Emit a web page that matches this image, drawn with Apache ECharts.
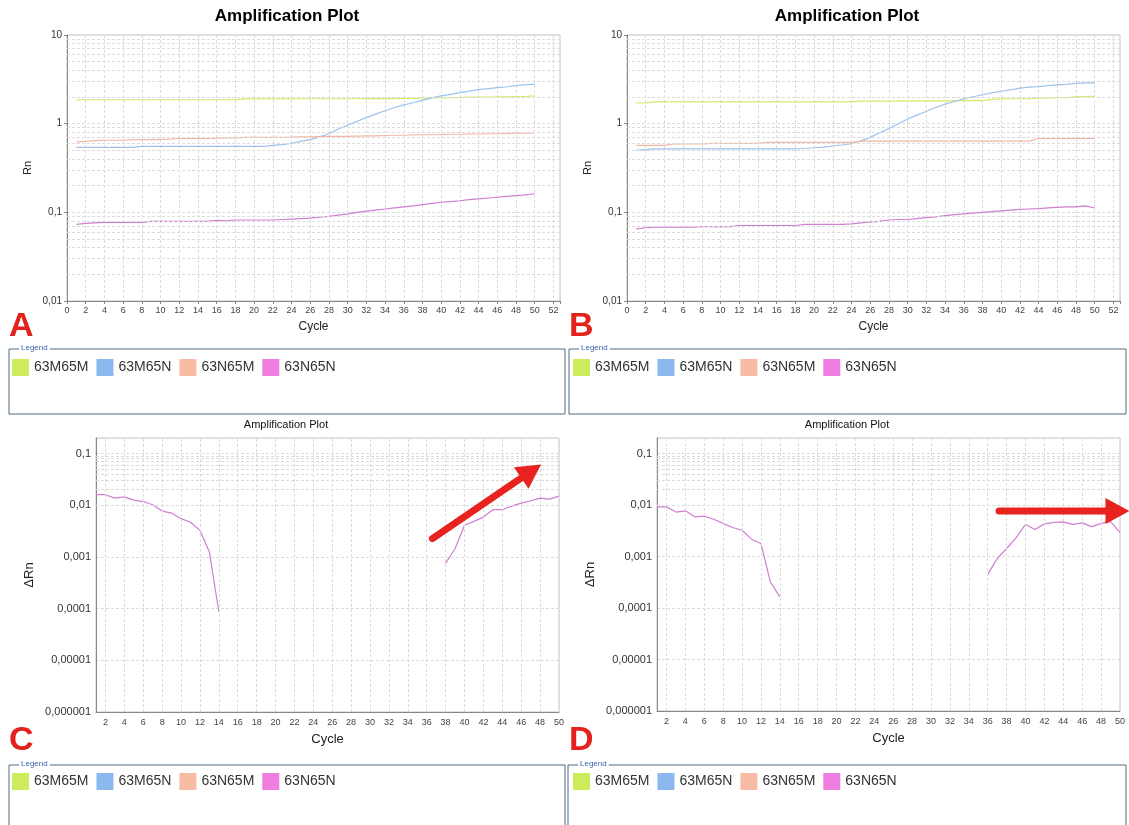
<!DOCTYPE html>
<html>
<head>
<meta charset="utf-8">
<script src="https://cdn.jsdelivr.net/npm/echarts@6/dist/echarts.min.js"></script>
<style>
html, body { margin: 0; padding: 0; background: #fff; }
#main { width: 1129px; height: 825px; }
</style>
</head>
<body>
<div id="main"></div>
<script>
// series names and colours
var names = ['63M65M', '63M65N', '63N65M', '63N65N'];
var legendColors = ['#cdec5c', '#8cb8f0', '#f8bca4', '#f07ee0'];
var lineColors = ['#d4ea6c', '#9ec2ea', '#f2b6a4', '#d07ed2'];

var cycles = [1, 2, 3, 4, 5, 6, 7, 8, 9, 10, 11, 12, 13, 14, 15, 16, 17, 18, 19, 20,
  21, 22, 23, 24, 25, 26, 27, 28, 29, 30, 31, 32, 33, 34, 35, 36, 37, 38, 39, 40,
  41, 42, 43, 44, 45, 46, 47, 48, 49, 50];

// panel A (Rn)
var rnA_M65M = [1.86, 1.86, 1.86, 1.86, 1.86, 1.86, 1.86, 1.86, 1.86, 1.86,
  1.86, 1.86, 1.86, 1.86, 1.86, 1.86, 1.86, 1.87, 1.90, 1.90,
  1.90, 1.90, 1.90, 1.90, 1.91, 1.91, 1.91, 1.91, 1.91, 1.91,
  1.91, 1.92, 1.92, 1.92, 1.92, 1.93, 1.93, 1.94, 1.95, 1.96,
  1.96, 1.97, 1.99, 2.00, 2.00, 2.01, 2.01, 2.02, 2.03, 2.05];
var rnA_M65N = [0.54, 0.54, 0.54, 0.54, 0.54, 0.54, 0.54, 0.555, 0.555, 0.555,
  0.555, 0.555, 0.555, 0.555, 0.555, 0.555, 0.555, 0.555, 0.555, 0.555,
  0.555, 0.57, 0.58, 0.60, 0.63, 0.66, 0.71, 0.77, 0.87, 0.96,
  1.06, 1.17, 1.28, 1.40, 1.52, 1.63, 1.72, 1.83, 1.95, 2.06,
  2.14, 2.24, 2.33, 2.42, 2.48, 2.55, 2.61, 2.68, 2.76, 2.78];
var rnA_N65M = [0.62, 0.63, 0.645, 0.65, 0.65, 0.65, 0.655, 0.66, 0.66, 0.665,
  0.67, 0.68, 0.68, 0.68, 0.68, 0.685, 0.69, 0.69, 0.70, 0.70,
  0.70, 0.70, 0.70, 0.705, 0.71, 0.71, 0.715, 0.72, 0.72, 0.72,
  0.725, 0.73, 0.73, 0.735, 0.74, 0.74, 0.745, 0.75, 0.75, 0.755,
  0.76, 0.76, 0.765, 0.765, 0.77, 0.77, 0.775, 0.78, 0.78, 0.785];
var rnA_N65N = [0.073, 0.075, 0.076, 0.077, 0.077, 0.077, 0.077, 0.077, 0.079, 0.079,
  0.079, 0.079, 0.079, 0.079, 0.079, 0.081, 0.080, 0.082, 0.082, 0.082,
  0.082, 0.082, 0.083, 0.084, 0.085, 0.086, 0.088, 0.090, 0.093, 0.096,
  0.100, 0.103, 0.106, 0.109, 0.112, 0.115, 0.118, 0.122, 0.126, 0.130,
  0.132, 0.135, 0.139, 0.142, 0.145, 0.148, 0.151, 0.154, 0.157, 0.162];

// panel B (Rn)
var rnB_M65M = [1.71, 1.72, 1.76, 1.76, 1.76, 1.76, 1.76, 1.76, 1.76, 1.76,
  1.76, 1.76, 1.76, 1.76, 1.76, 1.76, 1.76, 1.76, 1.76, 1.76,
  1.76, 1.76, 1.76, 1.76, 1.80, 1.80, 1.80, 1.80, 1.80, 1.81,
  1.81, 1.81, 1.81, 1.81, 1.82, 1.82, 1.82, 1.82, 1.88, 1.90,
  1.91, 1.91, 1.92, 1.94, 1.95, 1.96, 1.97, 2.01, 2.02, 2.03];
var rnB_M65N = [0.50, 0.51, 0.52, 0.52, 0.52, 0.52, 0.52, 0.52, 0.52, 0.52,
  0.52, 0.52, 0.52, 0.52, 0.52, 0.52, 0.52, 0.52, 0.525, 0.535,
  0.545, 0.56, 0.575, 0.595, 0.64, 0.70, 0.79, 0.88, 1.00, 1.13,
  1.25, 1.38, 1.52, 1.66, 1.78, 1.90, 2.01, 2.12, 2.22, 2.32,
  2.40, 2.52, 2.58, 2.62, 2.68, 2.74, 2.78, 2.85, 2.88, 2.88];
var rnB_N65M = [0.57, 0.57, 0.57, 0.57, 0.59, 0.59, 0.59, 0.59, 0.60, 0.60,
  0.60, 0.60, 0.60, 0.60, 0.615, 0.615, 0.615, 0.615, 0.615, 0.615,
  0.615, 0.615, 0.615, 0.615, 0.635, 0.635, 0.635, 0.635, 0.635, 0.635,
  0.635, 0.635, 0.635, 0.635, 0.635, 0.635, 0.635, 0.635, 0.635, 0.635,
  0.635, 0.635, 0.635, 0.68, 0.68, 0.68, 0.68, 0.68, 0.68, 0.68];
var rnB_N65N = [0.065, 0.067, 0.068, 0.068, 0.068, 0.068, 0.068, 0.069, 0.069, 0.069,
  0.069, 0.071, 0.071, 0.071, 0.071, 0.071, 0.071, 0.071, 0.073, 0.073,
  0.073, 0.073, 0.073, 0.074, 0.076, 0.078, 0.079, 0.082, 0.083, 0.083,
  0.085, 0.087, 0.089, 0.092, 0.094, 0.096, 0.098, 0.100, 0.102, 0.104,
  0.106, 0.108, 0.109, 0.110, 0.112, 0.114, 0.115, 0.115, 0.118, 0.112];

// panels C and D (delta Rn, 63N65N only)
var dRnC = [0.016, 0.016, 0.0137, 0.0145, 0.0126, 0.0118, 0.0102, 0.0077, 0.00705, 0.0055,
  0.0047, 0.00327, 0.00124, 0.000087, null, null, null, null, null, null,
  null, null, null, null, null, null, null, null, null, null,
  null, null, null, null, null, null, null, 0.00076, 0.00144, 0.0041,
  0.00487, 0.0059, 0.0082, 0.0082, 0.0096, 0.011, 0.0122, 0.0137, 0.0131, 0.015];
var dRnD = [0.0092, 0.0092, 0.0073, 0.0077, 0.0059, 0.0061, 0.0053, 0.0044, 0.00366, 0.00324,
  0.00217, 0.00179, 0.00032, 0.000164, null, null, null, null, null, null,
  null, null, null, null, null, null, null, null, null, null,
  null, null, null, null, null, 0.00045, 0.00091, 0.00143, 0.0023, 0.0042,
  0.00334, 0.0043, 0.0046, 0.0047, 0.0042, 0.0045, 0.0038, 0.0044, 0.0048, 0.0029];

// annotation arrows, in data units [cycle, dRn]: tail, tip
var arrowC = [[36.6, 0.00227], [48.1, 0.0612]];
var arrowD = [[37.2, 0.00768], [51.0, 0.00768]];

var minorSteps = [2, 3, 4, 5, 6, 7, 8, 9];
var decadesTop = [0.01, 0.1, 1];
var decadesBottom = [0.000001, 0.00001, 0.0001, 0.001, 0.01];
var evenCycles = [2, 4, 6, 8, 10, 12, 14, 16, 18, 20, 22, 24, 26, 28, 30, 32, 34, 36, 38, 40,
  42, 44, 46, 48, 50];

var FONT = 'Liberation Sans, Arial, sans-serif';
var GRID_LINE = '#dcdcdc';
var RED = '#e8231f';

function pairs(vals) {
  return cycles.map(function (c, i) { return [c, vals[i] === null ? '-' : vals[i]]; });
}

function logLabel(v) {
  var e = Math.round(Math.log10(v));
  if (Math.abs(Math.log10(v) - e) > 1e-6) return '';
  if (e >= 0) return String(Math.pow(10, e));
  return '0,' + new Array(-e).join('0') + '1';
}

function minorLines(decades) {
  var out = [];
  decades.forEach(function (d) {
    minorSteps.forEach(function (k) { out.push({ yAxis: k * d }); });
  });
  return out;
}

function gridHelper(idx, decades, vertical) {
  var data = minorLines(decades);
  if (vertical) evenCycles.forEach(function (c) { data.push({ xAxis: c }); });
  return {
    type: 'line', xAxisIndex: idx, yAxisIndex: idx, data: [], z: 1, silent: true,
    markLine: {
      silent: true, symbol: ['none', 'none'], animation: false,
      label: { show: false },
      lineStyle: { color: GRID_LINE, type: [3, 2], width: 1 },
      emphasis: { disabled: true },
      data: data
    }
  };
}

var grids = [
  { left: 67, top: 35, width: 493, height: 266 },
  { left: 627, top: 35, width: 493, height: 266 },
  { left: 96, top: 438, width: 463, height: 274 },
  { left: 657, top: 438, width: 463, height: 273 }
].map(function (g) {
  g.show = true; g.borderColor = '#c4c4c4'; g.borderWidth = 1; g.containLabel = false;
  g.backgroundColor = 'transparent';
  return g;
});

function xTop(idx) {
  return {
    type: 'value', gridIndex: idx, min: 0, max: 52.7, interval: 2,
    name: 'Cycle', nameLocation: 'middle', nameGap: 20,
    nameTextStyle: { fontFamily: FONT, fontSize: 12, color: '#222' },
    axisLine: { lineStyle: { color: '#888' } },
    axisTick: { show: true, length: 3, lineStyle: { color: '#888' } },
    axisLabel: { fontFamily: FONT, fontSize: 9, color: '#444', margin: 5,
      formatter: function (v) { return v % 2 === 0 ? String(v) : ''; } },
    splitLine: { show: true, lineStyle: { color: GRID_LINE, type: [3, 2] } }
  };
}
function xBottom(idx) {
  return {
    type: 'value', gridIndex: idx, min: 1, max: 50, interval: 1,
    name: 'Cycle', nameLocation: 'middle', nameGap: 21,
    nameTextStyle: { fontFamily: FONT, fontSize: 13, color: '#222' },
    axisLine: { lineStyle: { color: '#888' } },
    axisTick: { show: false },
    axisLabel: { fontFamily: FONT, fontSize: 9, color: '#444', margin: 6, showMinLabel: false,
      formatter: function (v) { return v % 2 === 0 ? String(v) : ''; } },
    splitLine: { show: false }
  };
}
function yTop(idx) {
  return {
    type: 'log', logBase: 10, gridIndex: idx, min: 0.01, max: 10,
    name: 'Rn', nameLocation: 'middle', nameGap: 34,
    nameTextStyle: { fontFamily: FONT, fontSize: 11, color: '#222' },
    axisLine: { show: true, lineStyle: { color: '#888' } },
    axisTick: { show: true, length: 3, lineStyle: { color: '#888' } },
    axisLabel: { fontFamily: FONT, fontSize: 10, color: '#333', margin: 5, formatter: logLabel },
    splitLine: { show: true, lineStyle: { color: GRID_LINE, type: [3, 2] } }
  };
}
function yBottom(idx) {
  return {
    type: 'log', logBase: 10, gridIndex: idx, min: 0.000001, max: 0.2,
    name: '\u0394Rn', nameLocation: 'middle', nameGap: 60,
    nameTextStyle: { fontFamily: FONT, fontSize: 13, color: '#222' },
    axisLine: { show: true, lineStyle: { color: '#888' } },
    axisTick: { show: false },
    axisLabel: { fontFamily: FONT, fontSize: 11, color: '#333', margin: 5, formatter: logLabel },
    splitLine: { show: true, lineStyle: { color: GRID_LINE, type: [3, 2] } }
  };
}

function dataLine(idx, nameIdx, vals, z) {
  return {
    type: 'line', name: names[nameIdx], xAxisIndex: idx, yAxisIndex: idx,
    data: pairs(vals), showSymbol: false, symbol: 'none', z: z || 3,
    itemStyle: { color: legendColors[nameIdx] },
    lineStyle: { color: lineColors[nameIdx], width: 1.2 },
    emphasis: { disabled: true }, animation: false
  };
}

function legendAt(left, top) {
  return {
    left: left, top: top, padding: 0, itemGap: 8, itemWidth: 17, itemHeight: 17,
    icon: 'rect', selectedMode: false, orient: 'horizontal',
    textStyle: { fontFamily: FONT, fontSize: 14, color: '#333' },
    data: names.map(function (n, i) { return { name: n, itemStyle: { color: legendColors[i] } }; })
  };
}

function legendBox(x, y, w, h) {
  return [
    { type: 'rect', shape: { x: x, y: y, width: w, height: h }, z: 0,
      style: { fill: 'none', stroke: '#4d6a80', lineWidth: 1 } },
    { type: 'text', x: x + 10, y: y - 5, z: 1,
      style: { text: 'Legend', font: '8px ' + FONT, fill: '#3b64a8',
        backgroundColor: '#fff', padding: [0, 2] } }
  ];
}

function letter(ch, x, y) {
  return { type: 'text', x: x, y: y, z: 20,
    style: { text: ch, font: 'bold 34px ' + FONT, fill: '#e3211d', verticalAlign: 'top' } };
}

var chart = echarts.init(document.getElementById('main'), null, { renderer: 'canvas' });
chart.setOption({
  animation: false,
  backgroundColor: '#fff',
  title: [
    { text: 'Amplification Plot', left: 287, top: 8, textAlign: 'center', padding: 0,
      textStyle: { fontFamily: FONT, fontSize: 17, fontWeight: 'bold', color: '#000' } },
    { text: 'Amplification Plot', left: 847, top: 8, textAlign: 'center', padding: 0,
      textStyle: { fontFamily: FONT, fontSize: 17, fontWeight: 'bold', color: '#000' } },
    { text: 'Amplification Plot', left: 286, top: 419, textAlign: 'center', padding: 0,
      textStyle: { fontFamily: FONT, fontSize: 11, fontWeight: 'normal', color: '#111' } },
    { text: 'Amplification Plot', left: 847, top: 419, textAlign: 'center', padding: 0,
      textStyle: { fontFamily: FONT, fontSize: 11, fontWeight: 'normal', color: '#111' } }
  ],
  legend: [legendAt(12, 359), legendAt(573, 359), legendAt(12, 773), legendAt(573, 773)],
  grid: grids,
  xAxis: [xTop(0), xTop(1), xBottom(2), xBottom(3)],
  yAxis: [yTop(0), yTop(1), yBottom(2), yBottom(3)],
  series: [
    gridHelper(0, decadesTop, false),
    gridHelper(1, decadesTop, false),
    gridHelper(2, decadesBottom, true),
    gridHelper(3, decadesBottom, true),
    dataLine(0, 0, rnA_M65M), dataLine(0, 1, rnA_M65N), dataLine(0, 2, rnA_N65M), dataLine(0, 3, rnA_N65N),
    dataLine(1, 0, rnB_M65M), dataLine(1, 1, rnB_M65N), dataLine(1, 2, rnB_N65M), dataLine(1, 3, rnB_N65N),
    dataLine(2, 3, dRnC), dataLine(3, 3, dRnD)
  ]
});

// red arrows: positions come from the axes of grids C and D
function arrowShapes(gridIndex, coords) {
  var a = chart.convertToPixel({ gridIndex: gridIndex }, coords[0]);
  var b = chart.convertToPixel({ gridIndex: gridIndex }, coords[1]);
  var dx = b[0] - a[0], dy = b[1] - a[1];
  var len = Math.sqrt(dx * dx + dy * dy);
  var ux = dx / len, uy = dy / len;
  var headLen = 24, headHalf = 13;
  var bx = b[0] - ux * headLen, by = b[1] - uy * headLen;
  return [
    { type: 'line', z: 30, shape: { x1: a[0], y1: a[1], x2: bx + ux * 2, y2: by + uy * 2 },
      style: { stroke: RED, lineWidth: 7, lineCap: 'round' } },
    { type: 'polygon', z: 30,
      shape: { points: [[b[0], b[1]], [bx - uy * headHalf, by + ux * headHalf], [bx + uy * headHalf, by - ux * headHalf]] },
      style: { fill: RED } }
  ];
}

chart.setOption({
  graphic: [].concat(
    legendBox(9, 349, 556, 65),
    legendBox(569, 349, 557, 65),
    legendBox(9, 765, 556, 80),
    legendBox(568, 765, 558, 80),
    [letter('A', 9, 310), letter('B', 569, 310), letter('C', 9, 724), letter('D', 569, 724)],
    arrowShapes(2, arrowC),
    arrowShapes(3, arrowD)
  )
});
</script>
</body>
</html>
